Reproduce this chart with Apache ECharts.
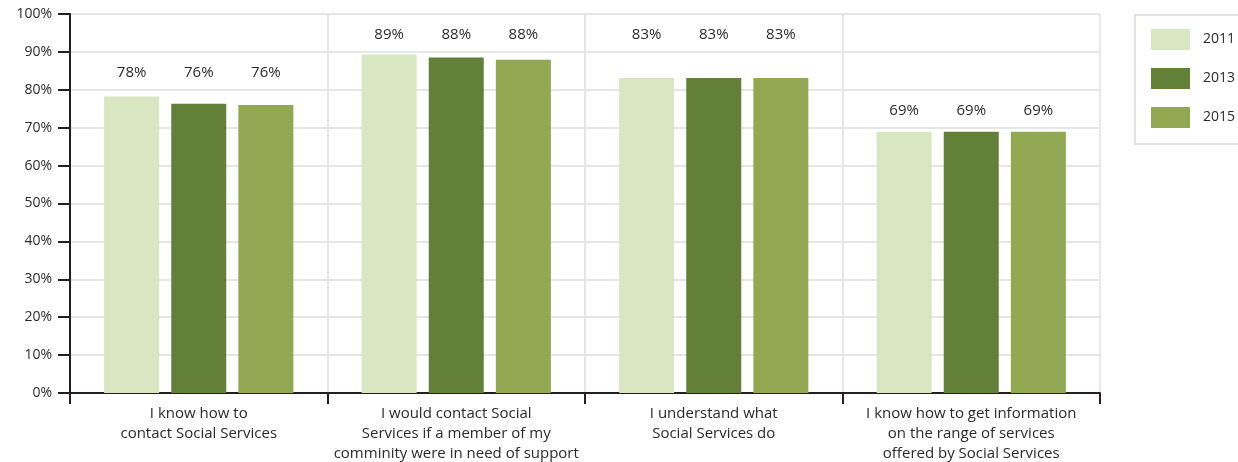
<!DOCTYPE html>
<html>
<head>
<meta charset="utf-8">
<script src="https://cdn.jsdelivr.net/npm/echarts@6/dist/echarts.min.js"></script>
<style>
html,body{margin:0;padding:0;background:#fff;}
#chart{width:1238px;height:462px;}
</style>
</head>
<body>
<div id="chart"></div>
<script>
var categories = [
  "I know how to\ncontact Social Services",
  "I would contact Social\nServices if a member of my\ncomminity were in need of support",
  "I understand what\nSocial Services do",
  "I know how to get information\non the range of services\noffered by Social Services"
];
var seriesNames = ["2011", "2013", "2015"];
var values2011 = [78.2, 89.3, 83.1, 68.9];
var values2013 = [76.3, 88.5, 83.1, 68.9];
var values2015 = [76.0, 87.9, 83.1, 68.9];
var labels2011 = ["78%", "89%", "83%", "69%"];
var labels2013 = ["76%", "88%", "83%", "69%"];
var labels2015 = ["76%", "88%", "83%", "69%"];
var yTicks = [0, 10, 20, 30, 40, 50, 60, 70, 80, 90, 100];

var colors = ["#d8e6c2", "#638038", "#93a852"];
var allValues = [values2011, values2013, values2015];
var allLabels = [labels2011, labels2013, labels2015];
var font = "'Open Sans', 'Noto Sans', sans-serif";
var textColor = "#2a2a2a";

// label level per group: middle of the grid band above the group's tallest bar
var labelLevel = categories.map(function (c, i) {
  var m = Math.max(values2011[i], values2013[i], values2015[i]);
  return Math.ceil(m / 10) * 10 + 5;
});

var chart = echarts.init(document.getElementById('chart'), null, {renderer: 'canvas'});

function buildSeries(offsets) {
  return seriesNames.map(function (name, s) {
    return {
      name: name,
      type: 'bar',
      barWidth: 55,
      barGap: '22%',
      itemStyle: {color: colors[s]},
      emphasis: {disabled: true},
      data: allValues[s].map(function (v, i) {
        return {
          value: v,
          label: {
            show: true,
            position: 'top',
            distance: 0,
            offset: [0, offsets ? offsets[s][i] : 0],
            formatter: allLabels[s][i],
            color: textColor,
            fontSize: 15,
            fontFamily: font
          }
        };
      })
    };
  });
}

var option = {
  animation: false,
  backgroundColor: '#fff',
  grid: {left: 70, right: 138, top: 14, bottom: 69, containLabel: false, outerBoundsMode: 'none'},
  legend: {
    orient: 'vertical',
    left: 1135,
    top: 15,
    padding: [14, 30, 16, 16],
    itemWidth: 39,
    itemHeight: 21,
    itemGap: 18,
    borderColor: '#e3e3e3',
    borderWidth: 2,
    icon: 'rect',
    data: seriesNames,
    textStyle: {color: textColor, fontSize: 14, fontFamily: font, padding: [0, 0, 0, 8]}
  },
  xAxis: {
    type: 'category',
    data: categories,
    axisLine: {lineStyle: {color: '#231f20', width: 2}},
    axisTick: {show: true, length: 11, lineStyle: {color: '#231f20', width: 2}},
    splitLine: {show: true, lineStyle: {color: '#e6e6e6', width: 2}},
    axisLabel: {
      color: textColor, fontSize: 15, fontFamily: font, lineHeight: 20, margin: 11,
      interval: 0, align: 'center'
    }
  },
  yAxis: {
    type: 'value',
    min: 0,
    max: 100,
    interval: 10,
    axisLine: {show: true, lineStyle: {color: '#231f20', width: 2}},
    axisTick: {show: true, length: 12, lineStyle: {color: '#231f20', width: 2}},
    splitLine: {show: true, lineStyle: {color: '#e6e6e6', width: 2}},
    axisLabel: {
      color: textColor, fontSize: 14, fontFamily: font, margin: 18,
      formatter: function (v) { return yTicks.indexOf(v) >= 0 ? v + '%' : ''; }
    }
  },
  series: buildSeries(null)
};
chart.setOption(option);

// place every value label at the group's label level
var offsets = allValues.map(function (vals) {
  return vals.map(function (v, i) {
    var yBar = chart.convertToPixel({yAxisIndex: 0}, v);
    var yLab = chart.convertToPixel({yAxisIndex: 0}, labelLevel[i]);
    return (yLab + 9) - yBar;
  });
});
chart.setOption({series: buildSeries(offsets)});
</script>
</body>
</html>
